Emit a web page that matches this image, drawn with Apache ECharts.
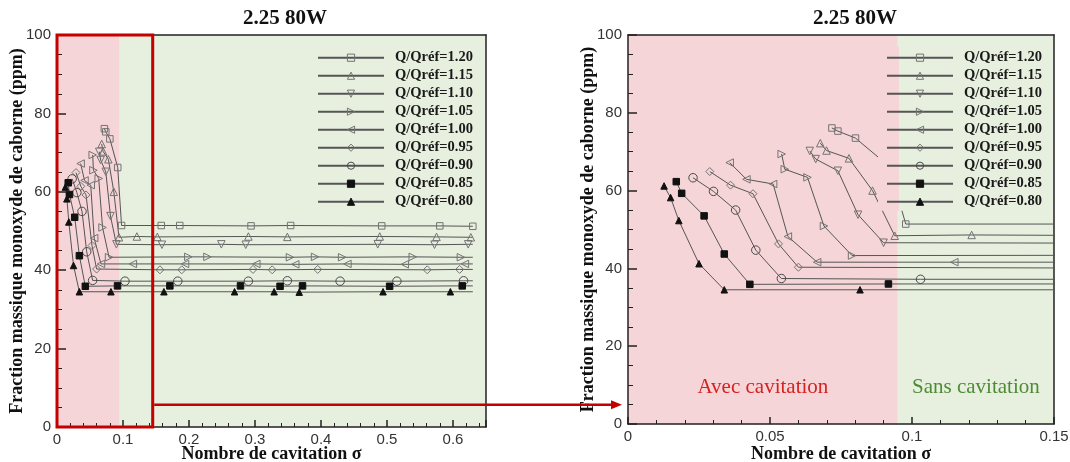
<!DOCTYPE html>
<html><head><meta charset="utf-8">
<script src="https://cdn.jsdelivr.net/npm/echarts@6/dist/echarts.min.js"></script>
<style>html,body{margin:0;padding:0;background:#fff}#c{width:1070px;height:462px}</style>
</head><body><div id="c"></div>
<script>
// ---- data ----
const seriesNames = ['Q/Qréf=1.20','Q/Qréf=1.15','Q/Qréf=1.10','Q/Qréf=1.05','Q/Qréf=1.00','Q/Qréf=0.95','Q/Qréf=0.90','Q/Qréf=0.85','Q/Qréf=0.80'];

const sigma_120 = [0.0718, 0.0739, 0.0801, 0.0920, 0.0978, 0.158, 0.186, 0.294, 0.354, 0.492, 0.580, 0.630];
const ppm_120   = [76.1, 75.3, 73.5, 66.2, 51.4, 51.4, 51.4, 51.3, 51.4, 51.3, 51.3, 51.2];
const sigma_115 = [0.0677, 0.0699, 0.0778, 0.0861, 0.0939, 0.121, 0.152, 0.290, 0.349, 0.489, 0.575, 0.627];
const ppm_115   = [72.2, 70.3, 68.3, 60.0, 48.4, 48.6, 48.5, 48.6, 48.5, 48.6, 48.5, 48.4];
const sigma_110 = [0.0640, 0.0661, 0.0739, 0.0810, 0.0900, 0.159, 0.249, 0.286, 0.486, 0.572, 0.623];
const ppm_110   = [70.2, 68.1, 65.1, 53.8, 46.6, 46.5, 46.6, 46.5, 46.6, 46.5, 46.6];
const sigma_105 = [0.0541, 0.0552, 0.0632, 0.0690, 0.0789, 0.199, 0.228, 0.353, 0.391, 0.432, 0.539, 0.612];
const ppm_105   = [69.4, 65.5, 63.4, 50.9, 43.3, 43.4, 43.4, 43.3, 43.4, 43.3, 43.4, 43.3];
const sigma_100 = [0.0358, 0.0417, 0.0511, 0.0563, 0.0666, 0.1149, 0.194, 0.302, 0.361, 0.440, 0.527, 0.618];
const ppm_100   = [67.2, 62.9, 61.7, 48.2, 41.6, 41.6, 41.6, 41.6, 41.5, 41.6, 41.5, 41.6];
const sigma_095 = [0.0288, 0.0361, 0.0440, 0.0530, 0.0600, 0.156, 0.189, 0.297, 0.326, 0.395, 0.561, 0.610];
const ppm_095   = [64.9, 61.4, 59.2, 46.3, 40.3, 40.1, 40.1, 40.2, 40.1, 40.2, 40.1, 40.2];
const sigma_090 = [0.0229, 0.0301, 0.0379, 0.0450, 0.0540, 0.103, 0.183, 0.290, 0.349, 0.429, 0.515, 0.616];
const ppm_090   = [63.3, 59.8, 55.0, 44.7, 37.4, 37.2, 37.2, 37.2, 37.3, 37.2, 37.2, 37.3];
const sigma_085 = [0.0170, 0.0189, 0.0268, 0.0339, 0.0429, 0.0917, 0.171, 0.278, 0.338, 0.372, 0.504, 0.614];
const ppm_085   = [62.3, 59.3, 53.5, 43.7, 35.9, 36.0, 36.0, 36.0, 35.9, 36.0, 35.9, 36.0];
const sigma_080 = [0.0127, 0.0150, 0.0179, 0.0250, 0.0339, 0.0817, 0.162, 0.269, 0.329, 0.367, 0.494, 0.596];
const ppm_080   = [61.2, 58.2, 52.3, 41.2, 34.5, 34.5, 34.5, 34.5, 34.5, 34.4, 34.5, 34.5];

// lines run on (without symbol) to this sigma
const tailSigma = 0.63;
const tailPpm = [51.2, 48.4, 46.6, 43.3, 41.6, 40.2, 37.3, 36.0, 34.5];

const cavitationLimit = 0.095;   // pink / green boundary
const zoomBoxSigma = 0.145;      // red zoom box on the left panel
const arrowPpm = 5.7;            // level of the red arrow
const leftSigmaMax = 0.65;
const rightSigmaMax = 0.15;
const titleText = '2.25 80W';
const xName = 'Nombre de cavitation σ';
const yName = 'Fraction massique monoxyde de caborne (ppm)';

// ---- styling ----
const sigmaArr = [sigma_120, sigma_115, sigma_110, sigma_105, sigma_100, sigma_095, sigma_090, sigma_085, sigma_080];
const ppmArr = [ppm_120, ppm_115, ppm_110, ppm_105, ppm_100, ppm_095, ppm_090, ppm_085, ppm_080];
const symbols = ['rect','triangle','triangle','triangle','triangle','diamond','circle','rect','triangle'];
const rotations = [0, 0, 180, -90, 90, 0, 0, 0, 0];
const sizes = [6.5, 7.5, 7.5, 7.5, 7.5, 8, 8.5, 6.5, 6.5];
const filled = [false,false,false,false,false,false,false,true,true];
const strokes = ['#747474','#747474','#747474','#747474','#747474','#747474','#4a4a4a','#111','#111'];

const PINK = '#f5d5d7';
const GREEN = '#e7efdf';
const SERIF = '"Liberation Serif","Times New Roman",serif';
const SANS = '"Liberation Sans",Arial,sans-serif';
const AX = '#222';

function buildData(i) {
  const d = sigmaArr[i].map((x, k) => [x, ppmArr[i][k]]);
  d.push({ value: [tailSigma, tailPpm[i]], symbol: 'none' });
  return d;
}

const series = [];
// backgrounds
series.push({
  type: 'line', xAxisIndex: 0, yAxisIndex: 0, data: [], silent: true,
  markArea: { silent: true, z: -1, label: { show: false },
    data: [
      [{ xAxis: 0, itemStyle: { color: PINK } }, { xAxis: cavitationLimit }],
      [{ xAxis: cavitationLimit, itemStyle: { color: GREEN } }, { xAxis: leftSigmaMax }]
    ] }
});
series.push({
  type: 'line', xAxisIndex: 1, yAxisIndex: 1, data: [], silent: true,
  markArea: { silent: true, z: -1,
    data: [
      [{ name: 'Avec cavitation', xAxis: 0, itemStyle: { color: PINK },
         label: { show: true, position: 'insideBottom', distance: 26, color: '#d42222', fontSize: 21, fontFamily: SERIF } },
       { xAxis: cavitationLimit }],
      [{ name: 'Sans cavitation', xAxis: cavitationLimit, itemStyle: { color: GREEN },
         label: { show: true, position: 'insideBottom', distance: 26, color: '#4f8a35', fontSize: 21, fontFamily: SERIF } },
       { xAxis: rightSigmaMax }]
    ] }
});

for (let g = 0; g < 2; g++) {
  for (let i = 0; i < seriesNames.length; i++) {
    series.push({
      type: 'line', name: seriesNames[i], xAxisIndex: g, yAxisIndex: g,
      data: buildData(i), z: 2,
      symbol: symbols[i], symbolRotate: rotations[i], symbolSize: sizes[i],
      showAllSymbol: true, clip: true,
      lineStyle: { color: '#555', width: 1 },
      itemStyle: { color: filled[i] ? '#111' : 'rgba(0,0,0,0)', borderColor: strokes[i], borderWidth: 1 },
      emphasis: { disabled: true }
    });
  }
}
// red zoom box
series.push({
  type: 'line', xAxisIndex: 0, yAxisIndex: 0, data: [], silent: true,
  markArea: { silent: true, z: 3, label: { show: false },
    data: [[{ xAxis: 0, yAxis: 0, itemStyle: { color: 'rgba(0,0,0,0)', borderColor: '#c40000', borderWidth: 3 } },
            { xAxis: zoomBoxSigma, yAxis: 100 }]] }
});

function bottomAxis(grid, max, interval, nameGap) {
  return {
    type: 'value', gridIndex: grid, position: 'bottom', min: 0, max: max, interval: interval, z: 1,
    name: xName, nameLocation: 'middle', nameGap: nameGap, nameMoveOverlap: false,
    nameTextStyle: { fontFamily: SERIF, fontWeight: 'bold', fontSize: 18, color: '#111' },
    axisLine: { onZero: false, lineStyle: { color: AX, width: 1.5 } },
    axisTick: { inside: true, length: 7, lineStyle: { color: AX, width: 1.5 } },
    minorTick: { show: true, splitNumber: 5, length: 4, lineStyle: { color: AX, width: 1 } },
    axisLabel: { margin: 5, color: '#333', fontSize: 15, fontFamily: SANS, showMaxLabel: grid === 1 },
    splitLine: { show: false }, minorSplitLine: { show: false }
  };
}
function frameX(grid, max) {
  return { type: 'value', gridIndex: grid, position: 'top', min: 0, max: max, z: 1,
    axisLine: { onZero: false, lineStyle: { color: AX, width: 1.5 } },
    axisTick: { show: false }, axisLabel: { show: false }, splitLine: { show: false } };
}
function leftAxis(grid) {
  return {
    type: 'value', gridIndex: grid, position: 'left', min: 0, max: 100, interval: 20, z: 1,
    name: yName, nameLocation: 'middle', nameGap: 31, nameMoveOverlap: false,
    nameTextStyle: { fontFamily: SERIF, fontWeight: 'bold', fontSize: 18, color: '#111' },
    axisLine: { onZero: false, lineStyle: { color: AX, width: 1.5 } },
    axisTick: { inside: true, length: 9, lineStyle: { color: AX, width: 1.5 } },
    minorTick: { show: true, splitNumber: 4, length: 5, lineStyle: { color: AX, width: 1 } },
    axisLabel: { margin: 6, color: '#333', fontSize: 15, fontFamily: SANS },
    splitLine: { show: false }, minorSplitLine: { show: false }
  };
}
function frameY(grid) {
  return { type: 'value', gridIndex: grid, position: 'right', min: 0, max: 100, z: 1,
    axisLine: { onZero: false, lineStyle: { color: AX, width: 1.5 } },
    axisTick: { show: false }, axisLabel: { show: false }, splitLine: { show: false } };
}

function legendAt(left, bg) {
  return {
    data: seriesNames, orient: 'vertical', left: left, top: 46.7,
    padding: [2, 8, 0, 8], itemWidth: 66, itemHeight: 9, itemGap: 0,
    selectedMode: false, backgroundColor: bg, z: 4,
    itemStyle: { borderWidth: 1 },
    textStyle: { fontFamily: SERIF, fontWeight: 'bold', fontSize: 14.5, color: '#1a1a1a', lineHeight: 18, padding: [0, 0, 0, 6] }
  };
}

const rightLegendBg = { type: 'linear', x: 0, y: 0, x2: 1, y2: 0,
  colorStops: [{ offset: 0, color: PINK }, { offset: 0.123, color: PINK }, { offset: 0.123, color: GREEN }, { offset: 1, color: GREEN }] };

const option = {
  animation: false,
  backgroundColor: '#fff',
  title: [
    { text: titleText, left: 243, top: 8, padding: 0, textStyle: { fontFamily: SERIF, fontWeight: 'bold', fontSize: 21, color: '#111' } },
    { text: titleText, left: 813, top: 8, padding: 0, textStyle: { fontFamily: SERIF, fontWeight: 'bold', fontSize: 21, color: '#111' } }
  ],
  grid: [
    { left: 57, top: 35, width: 429, height: 392, containLabel: false, outerBoundsMode: 'none' },
    { left: 628, top: 35, width: 426, height: 389, containLabel: false, outerBoundsMode: 'none' }
  ],
  xAxis: [bottomAxis(0, leftSigmaMax, 0.1, 18), bottomAxis(1, rightSigmaMax, 0.05, 21), frameX(0, leftSigmaMax), frameX(1, rightSigmaMax)],
  yAxis: [leftAxis(0), leftAxis(1), frameY(0), frameY(1)],
  legend: [legendAt(309, GREEN), legendAt(878, rightLegendBg)],
  series: series
};

const chart = echarts.init(document.getElementById('c'), null, { renderer: 'canvas' });
chart.setOption(option);

const p0 = chart.convertToPixel({ gridIndex: 0 }, [zoomBoxSigma, arrowPpm]);
const p1 = chart.convertToPixel({ gridIndex: 1 }, [0, 0]);
const tipX = p1[0] - 6;
chart.setOption({
  graphic: [
    { type: 'line', z: 10, silent: true, shape: { x1: p0[0] + 1.5, y1: p0[1], x2: tipX - 9, y2: p0[1] }, style: { stroke: '#c40000', lineWidth: 2.5 } },
    { type: 'polygon', z: 10, silent: true, shape: { points: [[tipX, p0[1]], [tipX - 11, p0[1] - 4.5], [tipX - 11, p0[1] + 4.5]] }, style: { fill: '#c40000' } }
  ]
});
</script></body></html>
